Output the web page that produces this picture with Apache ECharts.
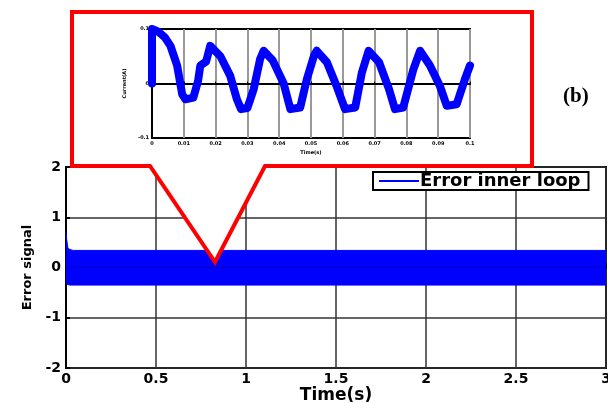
<!DOCTYPE html>
<html>
<head>
<meta charset="utf-8">
<script src="https://cdn.jsdelivr.net/npm/echarts@6/dist/echarts.min.js"></script>
<style>
html,body{margin:0;padding:0;background:#fff;}
#c{width:608px;height:403px;}
</style>
</head>
<body>
<div id="c"></div>
<script>
// ---- main plot data (envelope of the dense error signal) ----
var bandTime  = [0, 0.004, 0.01, 0.02, 0.04, 0.5, 1, 1.5, 2, 2.5, 3];
var bandUpper = [0.70, 0.55, 0.40, 0.36, 0.34, 0.34, 0.34, 0.34, 0.34, 0.34, 0.34];
var bandLower = [-0.28, -0.33, -0.35, -0.35, -0.35, -0.35, -0.35, -0.35, -0.35, -0.35, -0.35];
var mainXTicks = ['0', '0.5', '1', '1.5', '2', '2.5', '3'];
var mainYTicks = ['-2', '-1', '0', '1', '2'];
var seriesName = 'Error inner loop';

// ---- inset (zoom of current) data ----
var insetTime = [0, 0, 0.002, 0.004, 0.0058, 0.0079, 0.0095, 0.0105, 0.013, 0.0145, 0.0152, 0.017, 0.0183,
  0.0215, 0.0246, 0.0267, 0.028, 0.030, 0.032, 0.034, 0.0351, 0.038, 0.0414, 0.0435, 0.0466, 0.0487,
  0.051, 0.0518, 0.055, 0.058, 0.0607, 0.0639, 0.066, 0.0681, 0.0714, 0.0745, 0.0764, 0.079, 0.0822,
  0.0843, 0.0874, 0.0905, 0.0927, 0.0958, 0.0984, 0.1];
var insetCurrent = [0, 0.1, 0.095, 0.085, 0.069, 0.033, -0.02, -0.029, -0.026, 0.005, 0.033, 0.04, 0.069,
  0.05, 0.014, -0.029, -0.047, -0.045, -0.01, 0.045, 0.06, 0.042, 0.0, -0.047, -0.044, 0.008,
  0.052, 0.06, 0.039, -0.004, -0.047, -0.044, 0.02, 0.06, 0.039, -0.01, -0.047, -0.044, 0.026,
  0.06, 0.033, -0.004, -0.041, -0.038, 0.008, 0.033];
var insetXTicks = ['0', '0.01', '0.02', '0.03', '0.04', '0.05', '0.06', '0.07', '0.08', '0.09', '0.1'];
var insetYTicks = ['-0.1', '0', '0.1'];

function pairs(xs, ys) { return xs.map(function (x, i) { return [x, ys[i]]; }); }

var FONT = 'DejaVu Sans';
var chart = echarts.init(document.getElementById('c'), null, {renderer: 'canvas'});

var option = {
  animation: false,
  backgroundColor: '#fff',
  grid: [
    {left: 66, top: 167, width: 540, height: 201, show: true, borderColor: '#000', borderWidth: 2, z: 0,
      containLabel: false, outerBoundsMode: 'none'},
    {left: 152, top: 29, width: 318, height: 109, show: true, borderColor: '#000', borderWidth: 2, z: 60,
      containLabel: false, outerBoundsMode: 'none'}
  ],
  legend: {
    data: [seriesName],
    left: 373, top: 172,
    itemWidth: 40, itemHeight: 2, icon: 'rect',
    padding: [0, 8, 0, 6],
    backgroundColor: '#fff',
    borderColor: '#000', borderWidth: 2, borderRadius: 0,
    itemGap: 2,
    textStyle: {fontFamily: FONT, fontWeight: 'bold', fontSize: 18, color: '#000', padding: [0, 0, 0, -4]},
    z: 70
  },
  xAxis: [
    {
      gridIndex: 0, type: 'value', min: 0, max: 3, interval: 0.5,
      name: 'Time(s)', nameLocation: 'middle', nameGap: 19,
      nameTextStyle: {fontFamily: FONT, fontWeight: 'bold', fontSize: 17, color: '#000'},
      axisLine: {lineStyle: {color: '#000', width: 2}},
      axisTick: {inside: true, length: 4, lineStyle: {color: '#000', width: 2}},
      axisLabel: {fontFamily: FONT, fontWeight: 'bold', fontSize: 14, color: '#000', margin: 4,
        formatter: function (v, i) { return mainXTicks[i]; }},
      splitLine: {show: true, lineStyle: {color: '#333', width: 1.5}}
    },
    {
      gridIndex: 1, type: 'value', min: 0, max: 0.1, interval: 0.01,
      name: 'Time(s)', nameLocation: 'middle', nameGap: 12,
      nameTextStyle: {fontFamily: FONT, fontWeight: 'bold', fontSize: 5, color: '#000'},
      axisLine: {lineStyle: {color: '#000', width: 2}},
      axisTick: {inside: true, length: 2, lineStyle: {color: '#000', width: 1}},
      axisLabel: {fontFamily: FONT, fontWeight: 'bold', fontSize: 5, color: '#000', margin: 3,
        formatter: function (v, i) { return insetXTicks[i]; }},
      splitLine: {show: true, lineStyle: {color: '#999', width: 2}},
      z: 60
    }
  ],
  yAxis: [
    {
      gridIndex: 0, type: 'value', min: -2, max: 2, interval: 1,
      name: 'Error signal', nameLocation: 'middle', nameGap: 32, nameRotate: 90,
      nameTextStyle: {fontFamily: FONT, fontWeight: 'bold', fontSize: 13, color: '#000'},
      axisLine: {lineStyle: {color: '#000', width: 2}},
      axisTick: {inside: true, length: 4, lineStyle: {color: '#000', width: 2}},
      axisLabel: {fontFamily: FONT, fontWeight: 'bold', fontSize: 14, color: '#000', margin: 5,
        formatter: function (v, i) { return mainYTicks[i]; }},
      splitLine: {show: true, lineStyle: {color: '#333', width: 1.5}}
    },
    {
      gridIndex: 1, type: 'value', min: -0.1, max: 0.1, interval: 0.1,
      name: 'Current(A)', nameLocation: 'middle', nameGap: 18, nameRotate: 90,
      nameTextStyle: {fontFamily: FONT, fontWeight: 'bold', fontSize: 5, color: '#000'},
      axisLine: {lineStyle: {color: '#000', width: 2}},
      axisTick: {inside: true, length: 2, lineStyle: {color: '#000', width: 1}},
      axisLabel: {fontFamily: FONT, fontWeight: 'bold', fontSize: 5, color: '#000', margin: 3,
        formatter: function (v, i) { return insetYTicks[i]; }},
      splitLine: {show: true, lineStyle: {color: '#000', width: 1.5}},
      z: 60
    }
  ],
  series: [
    {
      name: seriesName, type: 'line', xAxisIndex: 0, yAxisIndex: 0,
      data: pairs(bandTime, bandUpper), symbol: 'none', smooth: false,
      itemStyle: {color: '#0000ff'},
      lineStyle: {color: '#0000ff', width: 1},
      areaStyle: {color: '#0000ff', opacity: 1},
      z: 5
    },
    {
      name: 'lower', type: 'line', xAxisIndex: 0, yAxisIndex: 0,
      data: pairs(bandTime, bandLower), symbol: 'none',
      itemStyle: {color: '#0000ff'},
      lineStyle: {color: '#0000ff', width: 1},
      areaStyle: {color: '#0000ff', opacity: 1},
      z: 5
    },
    {
      name: 'inset', type: 'line', xAxisIndex: 1, yAxisIndex: 1,
      data: pairs(insetTime, insetCurrent), symbol: 'none',
      itemStyle: {color: '#0000ff'},
      lineStyle: {color: '#0000ff', width: 8, join: 'round', cap: 'round'},
      clip: true,
      z: 65
    }
  ],
  graphic: [
    {
      type: 'polygon', z: 50,
      shape: {points: [[72, 12], [532, 12], [532, 166], [265, 166], [215, 262], [150, 166], [72, 166]]},
      style: {fill: '#fff', stroke: '#ff0000', lineWidth: 4, lineJoin: 'miter'}
    },
    {
      type: 'text', z: 50, left: 563, top: 86,
      style: {text: '(b)', font: 'bold 21px "Liberation Serif"', fill: '#000'}
    }
  ]
};
chart.setOption(option);
</script>
</body>
</html>
